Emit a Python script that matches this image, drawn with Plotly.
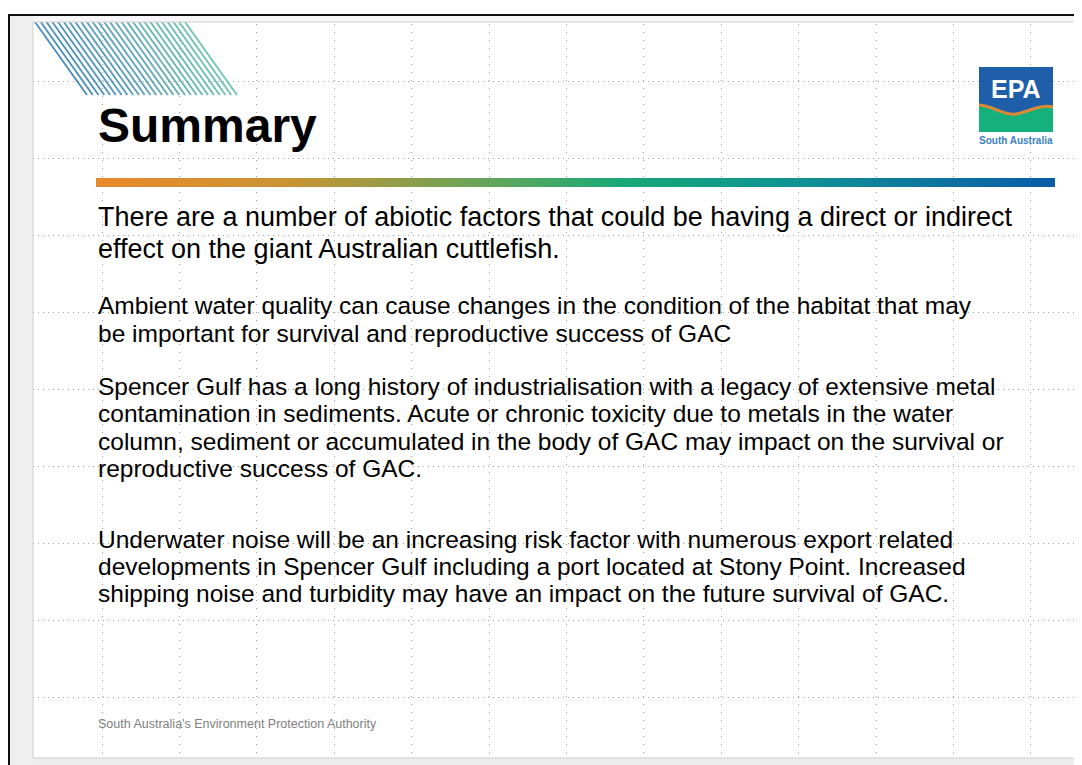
import plotly.graph_objects as go
import numpy as np

# The page body has an 8px margin, so the figure is sized to the remaining
# viewport and its axes use screen-pixel coordinates.
W, H = 1082, 765
OFF = 8

# ---- content ----
title_text = "Summary"
para1_lines = [
    "There are a number of abiotic factors that could be having a direct or indirect",
    "effect on the giant Australian cuttlefish.",
]
para2_lines = [
    "Ambient water quality can cause changes in the condition of the habitat that may",
    "be important for survival and reproductive success of GAC",
]
para3_lines = [
    "Spencer Gulf has a long history of industrialisation with a legacy of extensive metal",
    "contamination in sediments. Acute or chronic toxicity due to metals in the water",
    "column, sediment or accumulated in the body of GAC may impact on the survival or",
    "reproductive success of GAC.",
]
para4_lines = [
    "Underwater noise will be an increasing risk factor with numerous export related",
    "developments in Spencer Gulf including a port located at Stony Point. Increased",
    "shipping noise and turbidity may have an impact on the future survival of GAC.",
]
footer_text = "South Australia's Environment Protection Authority"
logo_text = "EPA"
logo_sub = "South Australia"

# gradient rule colour stops
grad_pos = [0.0, 0.2, 0.45, 0.55, 0.73, 1.0]
grad_col = ["#e8892c", "#c99433", "#4fa862", "#17a877", "#0f9293", "#0b5ca7"]

FONT = "Liberation Sans, Arial, sans-serif"

fig = go.Figure()

# gradient bar as heatmap
N = 240
bx0, bx1, by0, by1 = 96, 1055, 178, 187
xe = np.linspace(bx0, bx1, N + 1)
fig.add_trace(go.Heatmap(
    x=xe, y=[by0, by1], z=[list(range(N))],
    colorscale=[[p, c] for p, c in zip(grad_pos, grad_col)],
    showscale=False, hoverinfo="skip",
))

shapes = []

# diagonal stripes (top-left decoration)
n_str = 27
for i in range(n_str):
    t = i / (n_str - 1)
    x0 = 35 + i * (150 / (n_str - 1))
    r = int(70 + t * (110 - 70)); g = int(140 + t * (196 - 140)); b = int(185 + t * (175 - 185))
    shapes.append(dict(type="line", x0=x0, y0=22, x1=x0 + 52, y1=95,
                       line=dict(color=f"rgb({r},{g},{b})", width=1.8)))

# frame / margins
shapes += [
    dict(type="rect", x0=0, x1=W, y0=0, y1=14, fillcolor="white", line_width=0),
    dict(type="rect", x0=0, x1=8, y0=0, y1=H, fillcolor="white", line_width=0),
    dict(type="rect", x0=10, x1=W, y0=16, y1=22, fillcolor="#f6f6f6", line_width=0),
    dict(type="rect", x0=10, x1=33, y0=16, y1=H, fillcolor="#efefef", line_width=0),
    dict(type="rect", x0=33, x1=W, y0=758, y1=H, fillcolor="#ededed", line_width=0),
    dict(type="rect", x0=8, x1=W, y0=14, y1=16, fillcolor="#111111", line_width=0),
    dict(type="rect", x0=8, x1=10, y0=14, y1=H, fillcolor="#111111", line_width=0),
    dict(type="rect", x0=33, x1=W + 5, y0=22, y1=758, line=dict(color="#cfcfcf", width=1)),
]

# EPA logo
shapes += [
    dict(type="rect", x0=979, x1=1053, y0=67, y1=116, fillcolor="#1f5ea9", line_width=0),
    dict(type="path", path="M979,105 C994,106 1004,116 1016,114 S1040,104 1053,107 L1053,132 L979,132 Z",
         fillcolor="#15b07b", line_width=0),
    dict(type="path", path="M979,105 C994,106 1004,116 1016,114 S1040,104 1053,107",
         line=dict(color="#d88a35", width=3)),
]

ann = []
def txt(s, x, y, size, color="#000000", bold=False, anchor="left", family=FONT):
    ann.append(dict(text=f"<b>{s}</b>" if bold else s, x=x, y=y, xref="x", yref="y",
                    xanchor=anchor, yanchor="middle", showarrow=False,
                    font=dict(family=family, size=size, color=color)))

txt(title_text, 96, 125, 48, bold=True)
for i, s in enumerate(para1_lines):
    txt(s, 96, 217 + i * 32, 27)
for i, s in enumerate(para2_lines):
    txt(s, 96, 305 + i * 28, 24.5)
for i, s in enumerate(para3_lines):
    txt(s, 96, 386 + i * 27.5, 24.5)
for i, s in enumerate(para4_lines):
    txt(s, 96, 539 + i * 27, 24.5)
txt(footer_text, 96, 724, 12.5, color="#808080")
txt(logo_text, 1016, 89, 25, color="white", bold=True, anchor="center",
    family="Liberation Sans Narrow, Liberation Sans, Arial")
txt(logo_sub, 1016, 140, 10, color="#3d7fc1", bold=True, anchor="center")

fig.update_layout(
    width=W - OFF, height=H - OFF, margin=dict(l=0, r=0, t=0, b=0),
    paper_bgcolor="white", plot_bgcolor="white",
    shapes=shapes, annotations=ann, showlegend=False,
    xaxis=dict(range=[OFF, W], showgrid=True, tick0=102, dtick=77.4,
               gridcolor="#a0a0a0", gridwidth=1, griddash="1px,7px",
               zeroline=False, showticklabels=False, ticks="", showline=False, fixedrange=True),
    yaxis=dict(range=[H, OFF], showgrid=True, tick0=81, dtick=77,
               gridcolor="#a0a0a0", gridwidth=1, griddash="1px,4px",
               zeroline=False, showticklabels=False, ticks="", showline=False, fixedrange=True),
)

fig.write_html("out.html", config={"displayModeBar": False})
